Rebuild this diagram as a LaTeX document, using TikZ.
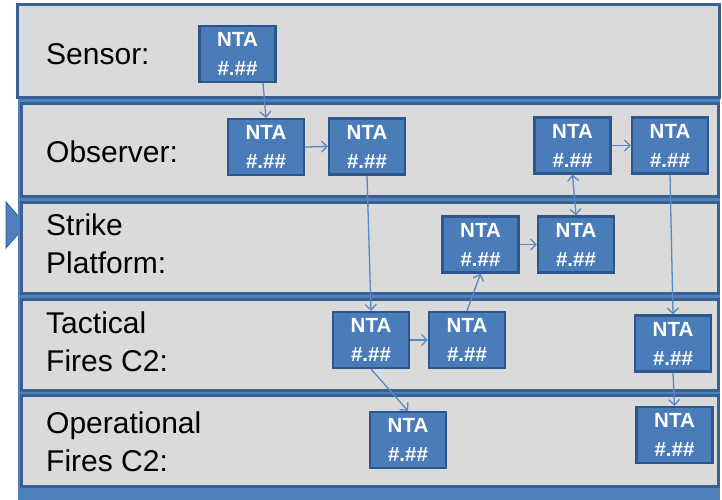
\documentclass[tikz,border=0pt]{standalone}
\usepackage{fontspec}
\setmainfont{Liberation Sans}
\usetikzlibrary{arrows.meta}
\definecolor{lanegrey}{HTML}{DADADA}
\definecolor{laneborder}{HTML}{3A5F92}
\definecolor{gapblue}{HTML}{4F81BD}
\definecolor{boxblue}{HTML}{4A7CBA}
\definecolor{boxborder}{HTML}{2F568A}
\definecolor{connblue}{HTML}{5A8AC6}
\tikzset{
  lane/.style={draw=laneborder,line width=3pt,fill=lanegrey},
  nta/.style={draw=boxborder,line width=2.2pt,fill=boxblue,minimum width=76pt,minimum height=56pt,inner sep=0pt,text=white,align=center,font=\fontsize{20.5}{29}\selectfont\bfseries},
  lanelabel/.style={inner sep=0pt,align=left,font=\fontsize{30}{38}\selectfont},
  conn/.style={draw=connblue,line width=1.3pt,-{Straight Barb[length=5.5pt,width=11pt]}},
  conn2/.style={draw=connblue,line width=1.3pt,{Straight Barb[length=5.5pt,width=11pt]}-{Straight Barb[length=5.5pt,width=11pt]}}
}
\begin{document}
\begin{tikzpicture}[x=1pt,y=-1pt]
\useasboundingbox (0,0) rectangle (722,500);
\fill[white] (0,0) rectangle (722,500);
% left triangle
\fill[gapblue,draw=boxborder,line width=0.8pt] (6,202) -- (26,225) -- (6,248) -- cycle;
% blue background strip
\fill[gapblue] (18,96) rectangle (720,500);
% lanes
\path[lane] (17,5) rectangle (719,97.5);
\path[lane] (21,103.5) rectangle (718,196.5);
\path[lane] (21,202) rectangle (718,293.5);
\path[lane] (21,299.5) rectangle (718,390);
\path[lane] (21,395.5) rectangle (718,486);
% labels
\node[lanelabel,anchor=base west] (lsen) at (46,65) {Sensor:};
\node[lanelabel,anchor=base west] (lobs) at (46,162) {Observer:};
\node[lanelabel,anchor=base west] (lstr) at (46,273) {Strike\\Platform:};
\node[lanelabel,anchor=base west] (ltac) at (46,371) {Tactical\\Fires C2:};
\node[lanelabel,anchor=base west] (lop) at (46,471) {Operational\\Fires C2:};
% NTA boxes
\node[nta] (se) at (237.5,54) {NTA\\\#.\#\#};
\node[nta] (o1) at (266,147) {NTA\\\#.\#\#};
\node[nta] (o2) at (367,146.5) {NTA\\\#.\#\#};
\node[nta] (o3) at (572.5,145.5) {NTA\\\#.\#\#};
\node[nta] (o4) at (670,145.5) {NTA\\\#.\#\#};
\node[nta] (st1) at (480.5,244.5) {NTA\\\#.\#\#};
\node[nta] (st2) at (576,244.5) {NTA\\\#.\#\#};
\node[nta] (t1) at (371,340) {NTA\\\#.\#\#};
\node[nta] (t2) at (467,340) {NTA\\\#.\#\#};
\node[nta] (t3) at (673,343.5) {NTA\\\#.\#\#};
\node[nta] (op1) at (408,440) {NTA\\\#.\#\#};
\node[nta] (op2) at (674.5,435) {NTA\\\#.\#\#};
% connectors
\draw[conn] ([xshift=25.5pt]se.south) -- (o1.north);
\draw[conn] (o1.east) -- (o2.west);
\draw[conn] (o2.south) -- (t1.north);
\draw[conn] (t1.east) -- (t2.west);
\draw[conn] (t2.north) -- (st1.south);
\draw[conn] (st1.east) -- (st2.west);
\draw[conn2] (o3.south) -- (st2.north);
\draw[conn] (o3.east) -- (o4.west);
\draw[conn] (o4.south) -- (t3.north);
\draw[conn] (t3.south) -- (op2.north);
\draw[conn] (t1.south) -- (op1.north);
\end{tikzpicture}
\end{document}
